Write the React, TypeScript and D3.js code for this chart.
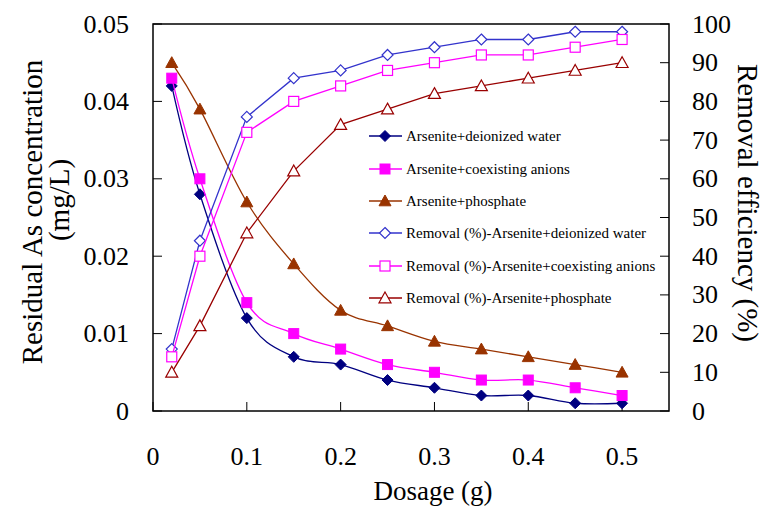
import React from 'react';
import * as d3 from 'd3';

// dosage (g)
const dosage = [0.02, 0.05, 0.1, 0.15, 0.2, 0.25, 0.3, 0.35, 0.4, 0.45, 0.5];

// residual As concentration (mg/L)
const deionized = [0.042, 0.028, 0.012, 0.007, 0.006, 0.004, 0.003, 0.002, 0.002, 0.001, 0.001];
const coexisting = [0.043, 0.030, 0.014, 0.010, 0.008, 0.006, 0.005, 0.004, 0.004, 0.003, 0.002];
const phosphate = [0.045, 0.039, 0.027, 0.019, 0.013, 0.011, 0.009, 0.008, 0.007, 0.006, 0.005];

// removal efficiency (%)
const removalDeionized = [16, 44, 76, 86, 88, 92, 94, 96, 96, 98, 98];
const removalCoexisting = [14, 40, 72, 80, 84, 88, 90, 92, 92, 94, 96];
const removalPhosphate = [10, 22, 46, 62, 74, 78, 82, 84, 86, 88, 90];

const xTicks = [0, 0.1, 0.2, 0.3, 0.4, 0.5];
const leftTicks = [0, 0.01, 0.02, 0.03, 0.04, 0.05];
const rightTicks = [0, 10, 20, 30, 40, 50, 60, 70, 80, 90, 100];

const W = 766;
const H = 508;
const left = 153, right = 669, top = 24, bottom = 411;
const font = '"Liberation Serif", "Times New Roman", serif';

const x = d3.scaleLinear().domain([0, 0.55]).range([left, right]);
const yL = d3.scaleLinear().domain([0, 0.05]).range([bottom, top]);
const yR = d3.scaleLinear().domain([0, 100]).range([bottom, top]);

type Series = {
  name: string;
  values: number[];
  axis: 'L' | 'R';
  color: string;
  shape: 'diamond' | 'square' | 'triangle';
  filled: boolean;
  smooth: boolean;
};

const series: Series[] = [
  { name: 'Arsenite+deionized water', values: deionized, axis: 'L', color: '#000080', shape: 'diamond', filled: true, smooth: true },
  { name: 'Arsenite+coexisting anions', values: coexisting, axis: 'L', color: '#FF00FF', shape: 'square', filled: true, smooth: true },
  { name: 'Arsenite+phosphate', values: phosphate, axis: 'L', color: '#993300', shape: 'triangle', filled: true, smooth: true },
  { name: 'Removal (%)-Arsenite+deionized water', values: removalDeionized, axis: 'R', color: '#3333CC', shape: 'diamond', filled: false, smooth: false },
  { name: 'Removal (%)-Arsenite+coexisting anions', values: removalCoexisting, axis: 'R', color: '#FF00FF', shape: 'square', filled: false, smooth: false },
  { name: 'Removal (%)-Arsenite+phosphate', values: removalPhosphate, axis: 'R', color: '#990000', shape: 'triangle', filled: false, smooth: false },
];

const Marker = ({ s, cx, cy }: { s: Series; cx: number; cy: number }) => {
  const fill = s.filled ? s.color : 'white';
  const sw = s.filled ? 1 : 1.2;
  if (s.shape === 'diamond') {
    const r = 5.5;
    return <path d={`M${cx},${cy - r}L${cx + r},${cy}L${cx},${cy + r}L${cx - r},${cy}Z`} fill={fill} stroke={s.color} strokeWidth={sw} />;
  }
  if (s.shape === 'square') {
    const r = 5;
    return <rect x={cx - r} y={cy - r} width={2 * r} height={2 * r} fill={fill} stroke={s.color} strokeWidth={sw} />;
  }
  const r = 6;
  return <path d={`M${cx},${cy - r}L${cx + r},${cy + r * 0.8}L${cx - r},${cy + r * 0.8}Z`} fill={fill} stroke={s.color} strokeWidth={sw} />;
};

const App = () => {
  const legendX = 369;
  const legendY = [136, 169, 201, 233, 266, 298];

  return (
    <svg width={W} height={H} style={{ position: 'absolute', left: 0, top: 0, background: 'white', fontFamily: font }}>
      {/* plot frame */}
      <rect x={left} y={top} width={right - left} height={bottom - top} fill="none" stroke="#000" strokeWidth={1.5} />

      {/* ticks, pointing inward */}
      {xTicks.map(t => (
        <line key={'xt' + t} x1={x(t)} x2={x(t)} y1={bottom} y2={bottom - 9} stroke="#000" />
      ))}
      {leftTicks.map(t => (
        <line key={'lt' + t} x1={left} x2={left + 9} y1={yL(t)} y2={yL(t)} stroke="#000" />
      ))}
      {rightTicks.map(t => (
        <line key={'rt' + t} x1={right} x2={right - 9} y1={yR(t)} y2={yR(t)} stroke="#000" />
      ))}

      {/* tick labels */}
      {xTicks.map(t => (
        <text key={'xl' + t} x={x(t)} y={465} fontSize={26} textAnchor="middle">{t === 0 ? '0' : d3.format('.1f')(t)}</text>
      ))}
      {leftTicks.map(t => (
        <text key={'ll' + t} x={129} y={yL(t)} dy="0.33em" fontSize={26} textAnchor="end">{t === 0 ? '0' : d3.format('.2f')(t)}</text>
      ))}
      {rightTicks.map(t => (
        <text key={'rl' + t} x={692} y={yR(t)} dy="0.33em" fontSize={26} textAnchor="start">{t}</text>
      ))}

      {/* axis titles */}
      <text x={433} y={500} fontSize={27} textAnchor="middle">Dosage (g)</text>
      <text transform="translate(42,212) rotate(-90)" fontSize={29} textAnchor="middle">Residual As concentration</text>
      <text transform="translate(69,200) rotate(-90)" fontSize={29} textAnchor="middle">(mg/L)</text>
      <text transform="translate(738,203) rotate(90)" fontSize={29} textAnchor="middle">Removal efficiency (%)</text>

      {/* series */}
      {series.map(s => {
        const y = s.axis === 'L' ? yL : yR;
        const line = d3.line<number>()
          .x((_, i) => x(dosage[i]))
          .y(v => y(v))
          .curve(s.smooth ? d3.curveCardinal.tension(0) : d3.curveLinear);
        return (
          <g key={s.name}>
            <path d={line(s.values) || ''} fill="none" stroke={s.color} strokeWidth={1.3} />
            {s.values.map((v, i) => (
              <Marker key={i} s={s} cx={x(dosage[i])} cy={y(v)} />
            ))}
          </g>
        );
      })}

      {/* legend */}
      {series.map((s, i) => (
        <g key={'lg' + s.name}>
          <line x1={legendX} x2={legendX + 33} y1={legendY[i]} y2={legendY[i]} stroke={s.color} strokeWidth={1.3} />
          <Marker s={s} cx={legendX + 16} cy={legendY[i]} />
          <text x={legendX + 37} y={legendY[i]} dy="0.33em" fontSize={15}>{s.name}</text>
        </g>
      ))}
    </svg>
  );
};

export default App;
